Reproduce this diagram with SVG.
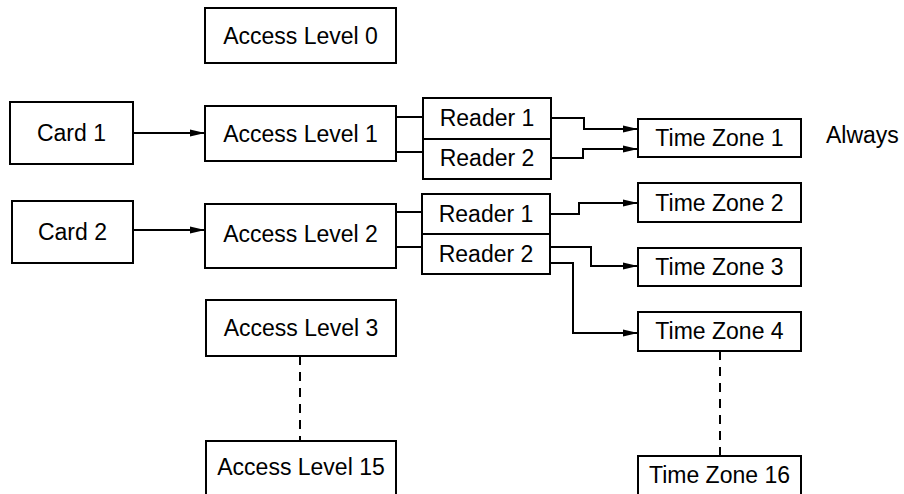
<svg xmlns="http://www.w3.org/2000/svg" width="904" height="494" viewBox="0 0 904 494">
  <style>
    .box { fill: #ffffff; stroke: #000000; stroke-width: 2; }
    .lbl { font-family: "Liberation Sans", Arial, sans-serif; font-size: 23px; fill: #000000; text-anchor: middle; }
    .free { font-family: "Liberation Sans", Arial, sans-serif; font-size: 23px; fill: #000000; }
    .wire { fill: none; stroke: #000000; stroke-width: 2; }
    .dash { fill: none; stroke: #000000; stroke-width: 2; stroke-dasharray: 9 7; }
  </style>
  <defs>
    <marker id="arrow" markerUnits="userSpaceOnUse" viewBox="0 0 15 8" refX="15" refY="4" markerWidth="15" markerHeight="8" orient="auto">
      <path d="M0,0.5 L15,4 L0,7.5 z" fill="#000000"/>
    </marker>
  </defs>
  <rect width="904" height="494" fill="#ffffff"/>

  <g id="connectors">
    <!-- cards to access levels -->
    <line class="wire" x1="133" y1="133" x2="205" y2="133" marker-end="url(#arrow)"/>
    <line class="wire" x1="133" y1="230" x2="205" y2="230" marker-end="url(#arrow)"/>
    <!-- access levels to readers -->
    <line class="wire" x1="396" y1="117" x2="423" y2="117"/>
    <line class="wire" x1="396" y1="152" x2="423" y2="152"/>
    <line class="wire" x1="396" y1="212" x2="422" y2="212"/>
    <line class="wire" x1="396" y1="247" x2="422" y2="247"/>
    <!-- readers to time zones -->
    <path class="wire" d="M551,118 H584 V129 H638" marker-end="url(#arrow)"/>
    <path class="wire" d="M551,158 H583 V149 H638" marker-end="url(#arrow)"/>
    <path class="wire" d="M550,214 H579 V203 H638" marker-end="url(#arrow)"/>
    <path class="wire" d="M550,247 H591 V266 H638" marker-end="url(#arrow)"/>
    <path class="wire" d="M550,263 H573 V333 H638" marker-end="url(#arrow)"/>
    <!-- elided ranges -->
    <line class="dash" x1="300" y1="356" x2="300" y2="441"/>
    <line class="dash" x1="720" y1="351" x2="720" y2="456"/>
  </g>

  <g id="access-level-0">
    <rect class="box" x="205" y="8" width="191" height="55"/>
    <text class="lbl" x="300.5" y="44">Access Level 0</text>
  </g>
  <g id="card-1">
    <rect class="box" x="10" y="102" width="123" height="62"/>
    <text class="lbl" x="71.5" y="141">Card 1</text>
  </g>
  <g id="access-level-1">
    <rect class="box" x="205" y="106" width="191" height="55"/>
    <text class="lbl" x="300.5" y="142">Access Level 1</text>
  </g>
  <g id="card-2">
    <rect class="box" x="12" y="201" width="121" height="62"/>
    <text class="lbl" x="72.5" y="240">Card 2</text>
  </g>
  <g id="access-level-2">
    <rect class="box" x="205" y="204" width="191" height="64"/>
    <text class="lbl" x="300.5" y="242">Access Level 2</text>
  </g>
  <g id="access-level-3">
    <rect class="box" x="206" y="300" width="190" height="56"/>
    <text class="lbl" x="301" y="336">Access Level 3</text>
  </g>
  <g id="access-level-15">
    <rect class="box" x="206" y="441" width="190" height="60"/>
    <text class="lbl" x="301" y="475">Access Level 15</text>
  </g>

  <g id="al1-reader-1">
    <rect class="box" x="423" y="98" width="128" height="41"/>
    <text class="lbl" x="487" y="126">Reader 1</text>
  </g>
  <g id="al1-reader-2">
    <rect class="box" x="423" y="139" width="128" height="40"/>
    <text class="lbl" x="487" y="166">Reader 2</text>
  </g>
  <g id="al2-reader-1">
    <rect class="box" x="422" y="194" width="128" height="40"/>
    <text class="lbl" x="486" y="222">Reader 1</text>
  </g>
  <g id="al2-reader-2">
    <rect class="box" x="422" y="234" width="128" height="40"/>
    <text class="lbl" x="486" y="262">Reader 2</text>
  </g>

  <g id="time-zone-1">
    <rect class="box" x="638" y="119" width="163" height="38"/>
    <text class="lbl" x="719.5" y="146">Time Zone 1</text>
  </g>
  <g id="always-label">
    <text class="free" x="826" y="143">Always</text>
  </g>
  <g id="time-zone-2">
    <rect class="box" x="638" y="183" width="163" height="39"/>
    <text class="lbl" x="719.5" y="211">Time Zone 2</text>
  </g>
  <g id="time-zone-3">
    <rect class="box" x="638" y="248" width="163" height="38"/>
    <text class="lbl" x="719.5" y="275">Time Zone 3</text>
  </g>
  <g id="time-zone-4">
    <rect class="box" x="638" y="312" width="163" height="39"/>
    <text class="lbl" x="719.5" y="339">Time Zone 4</text>
  </g>
  <g id="time-zone-16">
    <rect class="box" x="638" y="456" width="163" height="45"/>
    <text class="lbl" x="719.5" y="483">Time Zone 16</text>
  </g>
</svg>
